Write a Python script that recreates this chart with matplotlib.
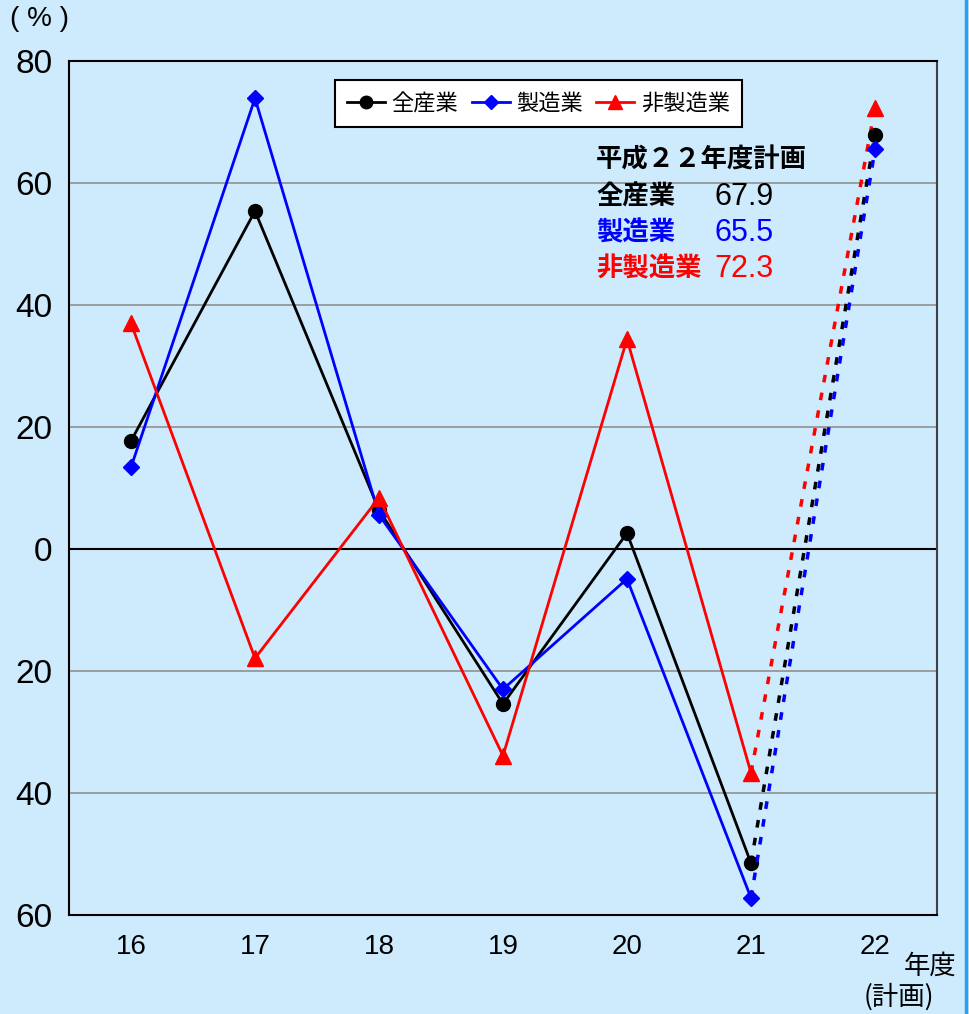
import matplotlib.pyplot as plt
from matplotlib import font_manager
from matplotlib.lines import Line2D

# fiscal years (平成), 22 is the plan
years = ['16', '17', '18', '19', '20', '21', '22']
all_ind = [17.7, 55.4, 6.4, -25.4, 2.6, -51.5, 67.9]
manuf = [13.4, 73.9, 5.6, -23.0, -4.9, -57.2, 65.5]
non_manuf = [37.0, -17.9, 8.4, -33.9, 34.4, -36.7, 72.3]
yticks = [80, 60, 40, 20, 0, -20, -40, -60]

names = [f.name for f in font_manager.fontManager.ttflist]
num_font = 'Liberation Sans Narrow' if 'Liberation Sans Narrow' in names else 'Liberation Sans'
jp = 'Noto Sans CJK JP'
plt.rcParams['font.family'] = [num_font, jp, 'DejaVu Sans']

bg = '#cdebfd'
fig = plt.figure(figsize=(9.69, 10.14), dpi=100, facecolor=bg)
ax = fig.add_axes([69/969, 99/1014, 868/969, 854/1014], facecolor=bg)

x = list(range(len(years)))
series = [(all_ind, 'black', 'o', 10, '全産業'),
          (manuf, '#0000ff', 'D', 8, '製造業'),
          (non_manuf, '#ff0000', '^', 11, '非製造業')]

# actual values up to 21, dotted segment to the plan year
for vals, c, m, ms, lab in series:
    ax.plot(x[:6], vals[:6], color=c, lw=2, marker=m, ms=ms, label=lab, zorder=3)
    ax.plot(x[5:], vals[5:], color=c, lw=2.5, ls=(0, (2.2, 3.0)), zorder=3)
    ax.plot(x[6], vals[6], color=c, marker=m, ms=ms, zorder=4)

ax.set_xlim(-0.5, 6.5)
ax.set_ylim(-60, 80)
ax.set_yticks(yticks)
ax.set_yticklabels([str(abs(v)) for v in yticks], fontsize=24)
ax.set_xticks(x)
ax.set_xticklabels(years, fontsize=20)
ax.tick_params(length=0, pad=14)
ax.tick_params(axis='y', pad=12)
for v in [60, 40, 20, -20, -40]:
    ax.axhline(v, color='#909090', lw=1.2, zorder=1)
ax.axhline(0, color='black', lw=1.5, zorder=2)
for s in ax.spines.values():
    s.set_linewidth(1.5)
    s.set_color('black')
ax.spines['right'].set_color('#404040')

handles = [Line2D([], [], color=c, lw=2, marker=m, ms=ms * 0.9) for _, c, m, ms, _ in series]
leg = ax.legend(handles, [s[4] for s in series], loc='upper left',
                bbox_to_anchor=(266/868, 1 - 19/854), borderaxespad=0, ncol=3,
                frameon=True, fancybox=False, edgecolor='black', facecolor='white',
                framealpha=1, prop={'family': jp, 'size': 16}, handlelength=1.7,
                handletextpad=0.3, columnspacing=0.6, borderpad=0.55)
leg.get_frame().set_linewidth(1.5)

# plan summary block
fig.text(596/969, 1 - 160/1014, '平成２２年度計画', fontsize=19, fontweight='bold',
         family=jp, va='center', ha='left')
rows = [('全産業', '67.9', 'black'), ('製造業', '65.5', '#0000ff'), ('非製造業', '72.3', '#ff0000')]
for i, (name, val, c) in enumerate(rows):
    yy = 1 - (197 + i * 36) / 1014
    fig.text(596/969, yy, name, fontsize=19, fontweight='bold', family=jp,
             color=c, va='center', ha='left')
    fig.text(774/969, yy, val, fontsize=22, color=c, va='center', ha='right')

fig.text(39/969, 1 - 19/1014, '( % )', fontsize=20, ha='center', va='center')
fig.text(930/969, 1 - 966/1014, '年度', fontsize=19, family=jp, ha='center', va='center')
fig.text(899/969, 1 - 997/1014, '(計画)', fontsize=19, family=jp, ha='center', va='center')

fig.add_artist(Line2D([966/969, 966/969], [0, 1], color='#2a9df4', lw=2.5,
                      transform=fig.transFigure))

fig.savefig('out.png', dpi=100, facecolor=bg)
